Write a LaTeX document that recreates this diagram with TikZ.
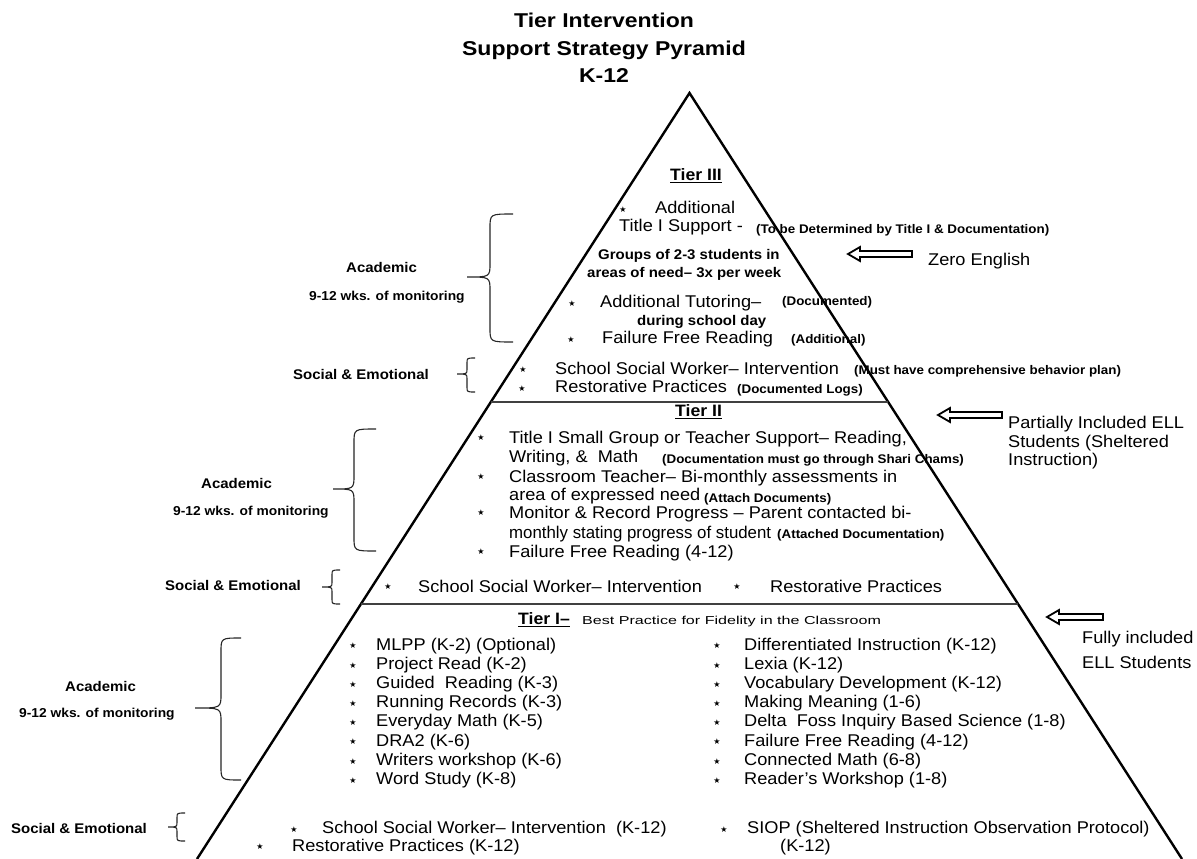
\documentclass[tikz,border=0pt]{standalone}
\usepackage{fontspec}
\usetikzlibrary{calc}
\setmainfont{Liberation Sans}[FakeStretch=1.07]
\newfontfamily\smallf{Liberation Sans}[FakeStretch=1.4]
\newfontfamily\narrowf{Liberation Sans}[FakeStretch=0.99]
\newfontfamily\titlef{Liberation Sans}[FakeStretch=1.15]
\newfontfamily\symf{DejaVu Sans}
\newcommand\mybul[3]{\node[bu] (#1) at (#2,#3) {★};}
\newcommand\hollowarrow[4]{\draw[arr] (#2,#4) -- (#2+12,#4-7) -- (#2+12,#4-3) -- (#3,#4-3) -- (#3,#4+3) -- (#2+12,#4+3) -- (#2+12,#4+7) -- cycle; \coordinate (#1) at (#2,#4);}
\newcommand\mybrace[7]{\draw[br] (#1,#4) .. controls (#2,#4) .. (#2,#4+#7) -- (#2,#5-#7) .. controls (#2,#5) .. (#3,#5) .. controls (#2,#5) .. (#2,#5+#7) -- (#2,#6-#7) .. controls (#2,#6) .. (#1,#6);}
\begin{document}
\begin{tikzpicture}[x=1pt,y=-1pt,
  base/.style={inner sep=0pt, anchor=mid west, yshift=-2.5pt},
  txt/.style={base, font=\fontsize{17}{20}\selectfont},
  nar/.style={base, font=\narrowf\fontsize{17}{20}\selectfont},
  bt/.style={base, font=\bfseries\fontsize{14}{17}\selectfont},
  sm/.style={base, font=\bfseries\fontsize{12.5}{15}\selectfont},
  wide/.style={base, font=\smallf\fontsize{11.5}{13}\selectfont},
  lbl/.style={base, font=\bfseries\fontsize{14}{17}\selectfont},
  lbls/.style={base, font=\bfseries\fontsize{12.9}{16}\selectfont},
  tier/.style={base, font=\bfseries\fontsize{16.5}{19}\selectfont},
  ttl/.style={font=\titlef\bfseries\fontsize{20}{24}\selectfont, inner sep=0pt, anchor=mid, yshift=-3pt},
  bu/.style={font=\symf\fontsize{8}{9}\selectfont, inner sep=0pt, anchor=center},
  side/.style={line width=2.4pt, black},
  divider/.style={line width=1.3pt, black!75},
  br/.style={line width=1.1pt, black!85},
  arr/.style={line width=1.8pt, black, fill=white}]
\useasboundingbox (0,0) rectangle (1197,859);
\fill[white] (0,0) rectangle (1197,859);

% title
\node[ttl] (title1) at (604,22) {Tier Intervention};
\node[ttl] (title2) at (604,50) {Support Strategy Pyramid};
\node[ttl] (title3) at (604,77) {K-12};

% pyramid
\coordinate (apex) at (689.5,93);
\coordinate (bl) at (197,859);
\coordinate (brr) at (1182,859);
\draw[black!25, line width=1pt] (bl) -- (brr);
\draw[side] (bl) -- (apex) -- (brr);
\coordinate (d1l) at ($(apex)!0.4034!(bl)$);
\coordinate (d1r) at ($(apex)!0.4034!(brr)$);
\coordinate (d2l) at ($(apex)!0.6671!(bl)$);
\coordinate (d2r) at ($(apex)!0.6671!(brr)$);
\draw[divider] (d1l) -- (d1r);
\draw[divider] (d2l) -- (d2r);

% ---------- Tier III ----------
\node[tier] (t3) at (670,175) {\underline{Tier III}};
\mybul{b31}{623}{210}
\node[txt] (t3a) at (655,208) {Additional};
\node[txt] (t3b) at (619,226) {Title I Support -};
\node[sm] (t3bs) at (756,228) {(To be Determined by Title I \& Documentation)};
\node[bt] (t3c) at (598,254) {Groups of 2-3 students in};
\node[bt] (t3d) at (587,272) {areas of need– 3x per week};
\hollowarrow{a3}{848}{912}{254}
\node[txt] (zero) at (928,260) {Zero English};
\mybul{b32}{572}{304}
\node[txt] (t3e) at (600,302) {Additional Tutoring–};
\node[sm] (t3es) at (782,300) {(Documented)};
\node[bt] (t3f) at (637,320) {during school day};
\mybul{b33}{571}{340}
\node[txt] (t3g) at (602,338) {Failure Free Reading};
\node[sm] (t3gs) at (791,338) {(Additional)};
\mybul{b34}{523}{370}
\node[txt] (t3h) at (555,369) {School Social Worker– Intervention};
\node[sm] (t3hs) at (854,369) {(Must have comprehensive behavior plan)};
\mybul{b35}{522}{389}
\node[txt] (t3i) at (555,387) {Restorative Practices};
\node[sm] (t3is) at (737,388) {(Documented Logs)};

\node[lbl] (ac3) at (346,267) {Academic};
\node[lbls] (wk3) at (309,295) {9-12 wks. of monitoring};
\node[lbl] (se3) at (293,374) {Social \& Emotional};
\mybrace{513}{490}{467}{214}{277}{342}{14}
\mybrace{475}{467}{457}{358}{374}{392}{5}

% ---------- Tier II ----------
\node[tier] (t2) at (675,411) {\underline{Tier II}};
\hollowarrow{a2}{938}{1002}{415}
\node[txt] (p1) at (1008,423) {Partially Included ELL};
\node[txt] (p2) at (1008,442) {Students (Sheltered};
\node[txt] (p3) at (1008,460) {Instruction)};
\mybul{b21}{481}{438}
\node[txt] (t2a) at (509,438) {Title I Small Group or Teacher Support– Reading,};
\node[txt] (t2b) at (509,457) {Writing, \&\ \ Math};
\node[sm] (t2bs) at (662,458) {(Documentation must go through Shari Chams)};
\mybul{b22}{481}{477}
\node[txt] (t2c) at (509,477) {Classroom Teacher– Bi-monthly assessments in};
\node[txt] (t2d) at (509,495) {area of expressed need};
\node[sm] (t2ds) at (704,497) {(Attach Documents)};
\mybul{b23}{481}{513}
\node[txt] (t2e) at (509,513) {Monitor \& Record Progress – Parent contacted bi-};
\node[nar] (t2f) at (509,533) {monthly stating progress of student};
\node[sm] (t2fs) at (777,533) {(Attached Documentation)};
\mybul{b24}{481}{552}
\node[txt] (t2g) at (509,552) {Failure Free Reading (4-12)};
\mybul{b25}{388}{587}
\node[txt] (t2h) at (418,587) {School Social Worker– Intervention};
\mybul{b26}{737}{587}
\node[txt] (t2i) at (770,587) {Restorative Practices};

\node[lbl] (ac2) at (201,483) {Academic};
\node[lbls] (wk2) at (173,510) {9-12 wks. of monitoring};
\node[lbl] (se2) at (165,585) {Social \& Emotional};
\mybrace{376}{354}{333}{429}{489}{551}{14}
\mybrace{340}{332}{322}{570}{587}{604}{5}

% ---------- Tier I ----------
\node[tier] (t1) at (518,619) {\underline{Tier I–}};
\node[wide] (t1s) at (582,619) {Best Practice for Fidelity in the Classroom};
\hollowarrow{a1}{1047}{1103}{617}
\node[txt] (f1) at (1082,638) {Fully included};
\node[txt] (f2) at (1082,663) {ELL Students};

\foreach \i/\t in {0/MLPP (K-2) (Optional), 1/Project Read (K-2), 2/Guided\ \ Reading (K-3), 3/Running Records (K-3), 4/Everyday Math (K-5), 5/DRA2 (K-6), 6/Writers workshop (K-6), 7/Word Study (K-8)}{
  \mybul{lb\i}{353}{646+19.2*\i}
  \node[txt] (l\i) at (376,645+19.2*\i) {\t};
}
\foreach \i/\t in {0/Differentiated Instruction (K-12), 1/Lexia (K-12), 2/Vocabulary Development (K-12), 3/Making Meaning (1-6), 4/Delta\ \ Foss Inquiry Based Science (1-8), 5/Failure Free Reading (4-12), 6/Connected Math (6-8), 7/Reader's Workshop (1-8)}{
  \mybul{rb\i}{717}{646+19.2*\i}
  \node[txt] (r\i) at (744,645+19.2*\i) {\t};
}
\mybul{b11}{294}{830}
\node[txt] (t1a) at (322,828) {School Social Worker– Intervention\ \ (K-12)};
\mybul{b12}{260}{847}
\node[txt] (t1b) at (292,846) {Restorative Practices (K-12)};
\mybul{b13}{724}{830}
\node[txt] (t1c) at (747,828) {SIOP (Sheltered Instruction Observation Protocol)};
\node[txt] (t1d) at (780,846) {(K-12)};

\node[lbl] (ac1) at (65,686) {Academic};
\node[lbls] (wk1) at (19,712) {9-12 wks. of monitoring};
\node[lbl] (se1) at (11,828) {Social \& Emotional};
\mybrace{241}{221}{195}{638}{708}{780}{14}
\mybrace{185}{177}{168}{813}{827}{841}{5}
\end{tikzpicture}
\end{document}
